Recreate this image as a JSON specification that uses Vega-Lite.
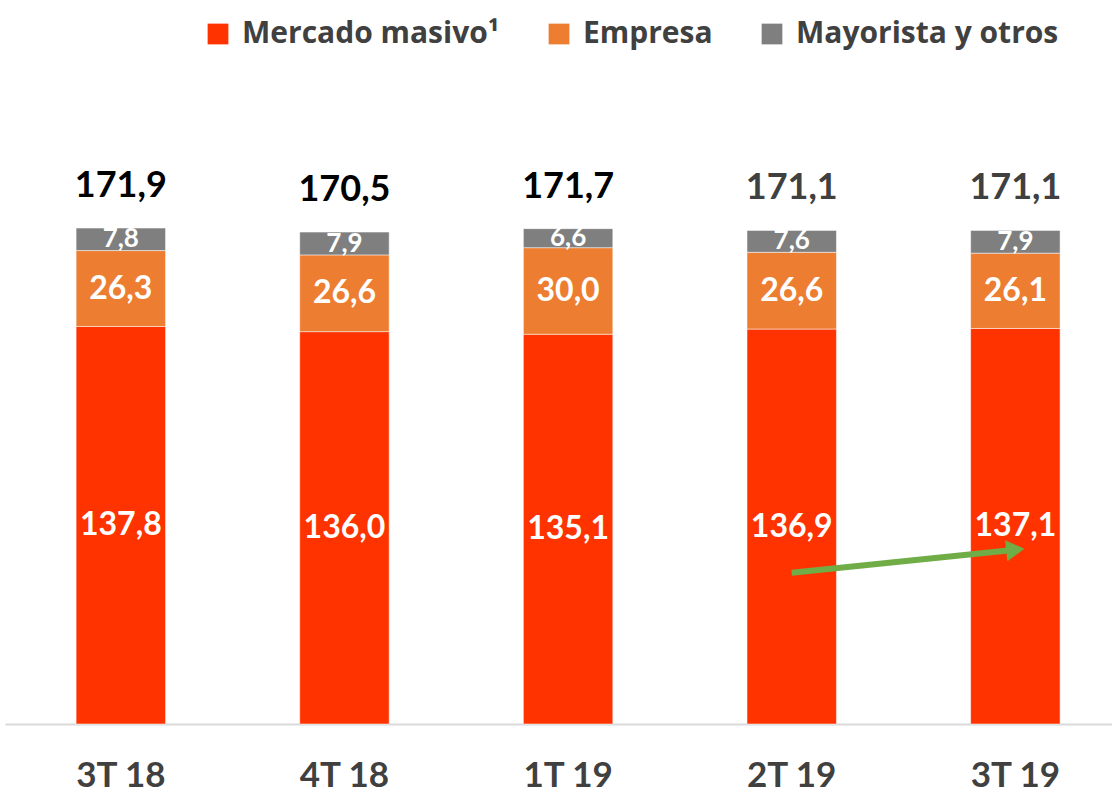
{
  "$schema": "https://vega.github.io/schema/vega-lite/v6.json",
  "autosize": {"type": "none"},
  "width": 1107,
  "height": 577,
  "padding": {"left": 5, "top": 147, "right": 0, "bottom": 72},
  "background": "#FFFFFF",
  "config": {
    "view": {"stroke": null},
    "font": "Lato",
    "locale": {"number": {"decimal": ",", "thousands": ".", "grouping": [3], "currency": ["", "€"]}}
  },
  "datasets": {
    "main": [
      {"q": "3T 18", "serie": "Mercado masivo", "v": 137.8},
      {"q": "3T 18", "serie": "Empresa", "v": 26.3},
      {"q": "3T 18", "serie": "Mayorista y otros", "v": 7.8},
      {"q": "4T 18", "serie": "Mercado masivo", "v": 136.0},
      {"q": "4T 18", "serie": "Empresa", "v": 26.6},
      {"q": "4T 18", "serie": "Mayorista y otros", "v": 7.9},
      {"q": "1T 19", "serie": "Mercado masivo", "v": 135.1},
      {"q": "1T 19", "serie": "Empresa", "v": 30.0},
      {"q": "1T 19", "serie": "Mayorista y otros", "v": 6.6},
      {"q": "2T 19", "serie": "Mercado masivo", "v": 136.9},
      {"q": "2T 19", "serie": "Empresa", "v": 26.6},
      {"q": "2T 19", "serie": "Mayorista y otros", "v": 7.6},
      {"q": "3T 19", "serie": "Mercado masivo", "v": 137.1},
      {"q": "3T 19", "serie": "Empresa", "v": 26.1},
      {"q": "3T 19", "serie": "Mayorista y otros", "v": 7.9}
    ],
    "arrow": [
      {"from": "2T 19", "to": "3T 19", "y1": 52.4, "y2": 60.4}
    ]
  },
  "data": {"name": "main"},
  "layer": [
    {
      "mark": {"type": "bar", "stroke": "#FFFFFF", "strokeWidth": 1, "strokeOpacity": 0.5},
      "encoding": {
        "x": {
          "field": "q", "type": "nominal", "sort": null,
          "scale": {"domain": ["3T 18", "4T 18", "1T 19", "2T 19", "3T 19"], "paddingInner": 0.6, "paddingOuter": 0.275, "align": 0.578},
          "axis": {"title": null, "labelAngle": 0, "labelFont": "Lato", "labelFontSize": 35, "labelFontWeight": "bold", "labelColor": "#404040", "labelPadding": 34, "ticks": false, "domainColor": "#D9D9D9", "domainWidth": 2}
        },
        "y": {"field": "v", "type": "quantitative", "stack": "zero", "scale": {"domain": [0, 200], "nice": false}, "axis": null},
        "order": {"field": "v", "type": "quantitative", "sort": "descending"},
        "color": {
          "field": "serie", "type": "nominal",
          "scale": {"domain": ["Mercado masivo", "Empresa", "Mayorista y otros"], "range": ["#FF3300", "#ED7D31", "#7F7F7F"]},
          "legend": {"orient": "none", "direction": "horizontal", "legendX": 198, "legendY": -128, "title": null, "symbolType": "square", "symbolSize": 430, "symbolStrokeWidth": 0, "labelFont": "Open Sans", "labelFontSize": 30, "labelFontWeight": "bold", "labelColor": "#404040", "labelOffset": 9, "columnPadding": 44, "labelLimit": 0, "labelExpr": "datum.label === 'Mercado masivo' ? 'Mercado masivo¹' : datum.label"}
        }
      }
    },
    {
      "mark": {"type": "text", "fontWeight": "bold", "baseline": "middle", "font": "Lato", "color": "#FFFFFF"},
      "encoding": {
        "x": {"field": "q", "type": "nominal", "sort": null},
        "y": {"field": "v", "type": "quantitative", "stack": "zero", "bandPosition": 0.5},
        "detail": {"field": "serie", "type": "nominal"},
        "order": {"field": "v", "type": "quantitative", "sort": "descending"},
        "size": {"condition": {"test": "datum.serie === 'Mayorista y otros'", "value": 26}, "value": 32},
        "text": {"field": "v", "type": "quantitative", "format": ".1f"}
      }
    },
    {
      "mark": {"type": "text", "fontWeight": "bold", "fontSize": 36, "baseline": "alphabetic", "dy": -31, "font": "Lato"},
      "encoding": {
        "x": {"field": "q", "type": "nominal", "sort": null},
        "y": {"aggregate": "sum", "field": "v", "type": "quantitative"},
        "text": {"aggregate": "sum", "field": "v", "type": "quantitative", "format": ".1f"},
        "color": {"condition": {"test": "datum.q === '2T 19' || datum.q === '3T 19'", "value": "#404040"}, "value": "#000000"}
      }
    },
    {
      "data": {"name": "arrow"},
      "mark": {"type": "rule", "color": "#70AD47", "strokeWidth": 6},
      "encoding": {
        "x": {"field": "from", "type": "nominal", "sort": null},
        "x2": {"field": "to"},
        "y": {"field": "y1", "type": "quantitative"},
        "y2": {"field": "y2"}
      }
    },
    {
      "data": {"name": "arrow"},
      "mark": {"type": "point", "shape": "triangle-right", "filled": true, "color": "#70AD47", "opacity": 1, "size": 450, "angle": -6},
      "encoding": {
        "x": {"field": "to", "type": "nominal", "sort": null},
        "y": {"field": "y2", "type": "quantitative"}
      }
    }
  ]
}
